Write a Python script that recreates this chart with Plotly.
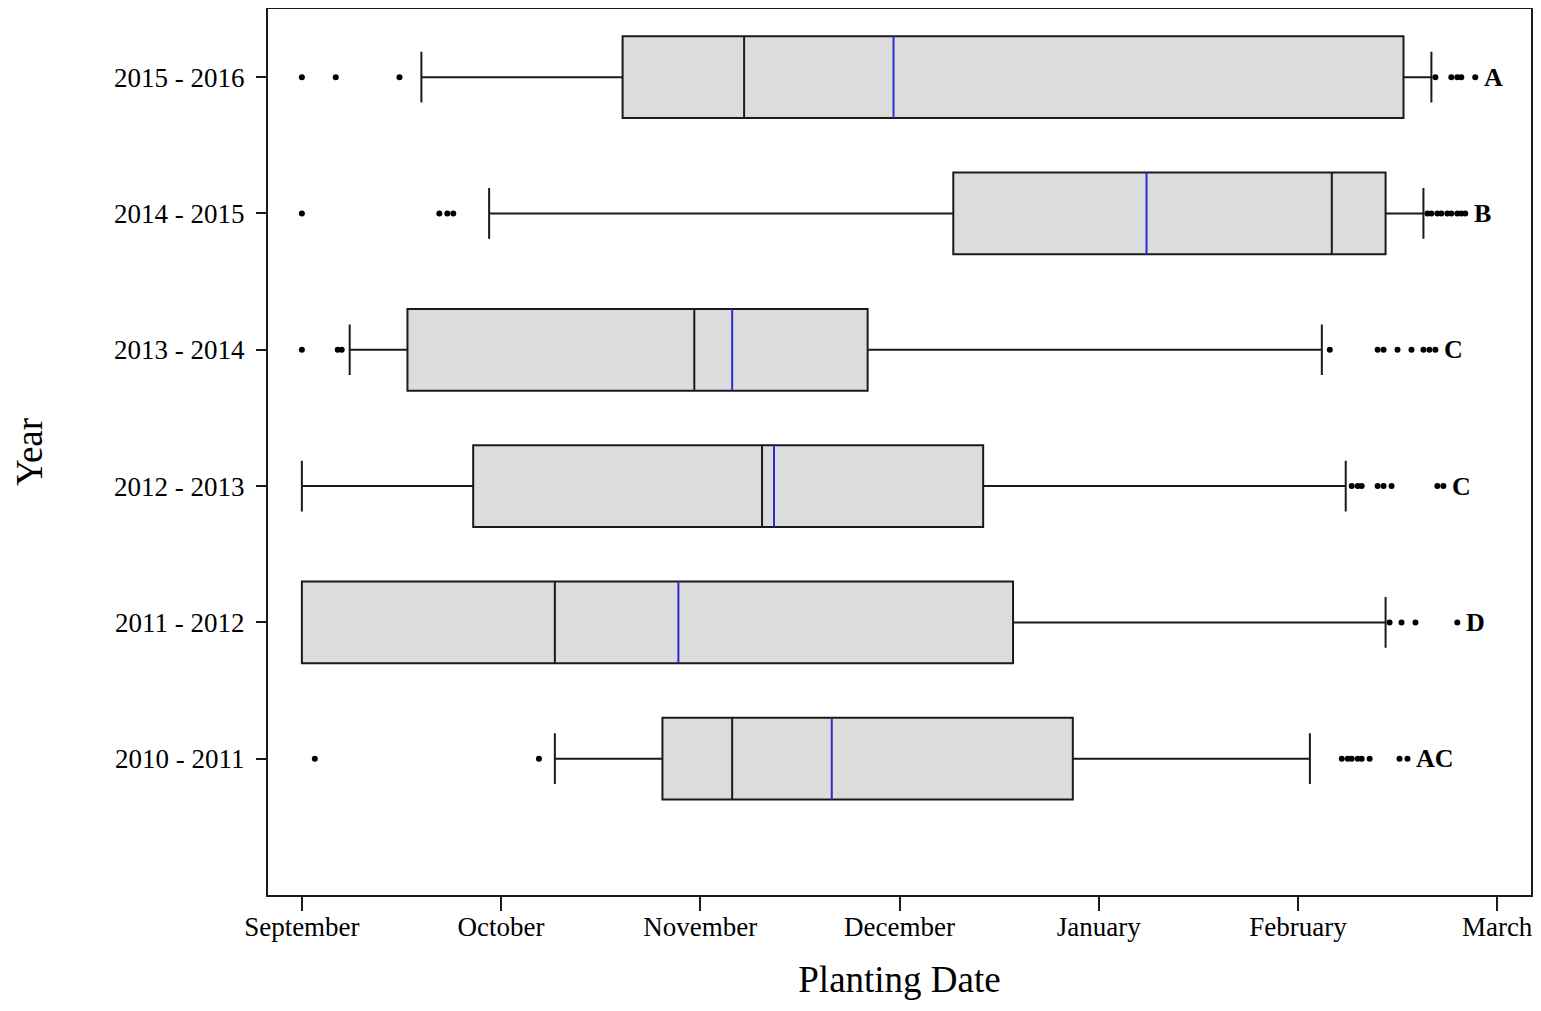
import plotly.graph_objects as go

# ---- data (x values in months after 1 September) ----
seasons = ["2010 - 2011", "2011 - 2012", "2012 - 2013", "2013 - 2014", "2014 - 2015", "2015 - 2016"]
q1 = [1.81, 0.00, 0.86, 0.53, 3.27, 1.61]
median = [2.16, 1.27, 2.31, 1.97, 5.17, 2.22]
mean = [2.66, 1.89, 2.37, 2.16, 4.24, 2.97]
q3 = [3.87, 3.57, 3.42, 2.84, 5.44, 5.53]
lower_whisker = [1.27, 0.00, 0.00, 0.24, 0.94, 0.60]
upper_whisker = [5.06, 5.44, 5.24, 5.12, 5.63, 5.67]
outliers = [
    [0.065, 1.19, 5.22, 5.25, 5.27, 5.30, 5.32, 5.36, 5.51, 5.55],
    [5.46, 5.52, 5.59, 5.80],
    [5.27, 5.30, 5.32, 5.40, 5.43, 5.47, 5.70, 5.73],
    [0.0, 0.18, 0.20, 5.16, 5.40, 5.43, 5.50, 5.57, 5.63, 5.66, 5.69],
    [0.0, 0.69, 0.73, 0.76, 5.65, 5.67, 5.70, 5.72, 5.75, 5.77, 5.80, 5.82, 5.84],
    [0.0, 0.17, 0.49, 5.69, 5.77, 5.80, 5.82, 5.89],
]
group_letters = ["AC", "D", "C", "C", "B", "A"]
month_labels = ["September", "October", "November", "December", "January", "February", "March"]

SERIF = "Liberation Serif, Times New Roman, serif"
positions = list(range(len(seasons)))

fig = go.Figure()

for i, s in enumerate(seasons):
    fig.add_trace(go.Box(
        y=[positions[i]], q1=[q1[i]], median=[median[i]], q3=[q3[i]],
        lowerfence=[lower_whisker[i]], upperfence=[upper_whisker[i]],
        orientation="h", width=0.6, whiskerwidth=0.62,
        fillcolor="#dcdcdc", line=dict(color="#1a1a1a", width=2),
        boxpoints=False, name=s, showlegend=False, hoverinfo="skip",
    ))

# mean lines (blue)
mx, my = [], []
for i in positions:
    mx += [mean[i], mean[i], None]
    my += [i - 0.3, i + 0.3, None]
fig.add_trace(go.Scatter(x=mx, y=my, mode="lines", line=dict(color="#2b2bd0", width=2),
                         showlegend=False, hoverinfo="skip"))

# outliers
ox, oy = [], []
for i in positions:
    ox += outliers[i]
    oy += [i] * len(outliers[i])
fig.add_trace(go.Scatter(x=ox, y=oy, mode="markers",
                         marker=dict(color="black", size=6),
                         showlegend=False, hoverinfo="skip"))

# group letters
for i in positions:
    fig.add_annotation(x=max(outliers[i]), y=i, text="<b>%s</b>" % group_letters[i],
                       showarrow=False, xanchor="left", xshift=7,
                       font=dict(family=SERIF, size=26, color="black"))

fig.update_layout(
    width=1525, height=992,
    margin=dict(l=260, r=2, t=1, b=105),
    paper_bgcolor="white", plot_bgcolor="white",
    font=dict(family=SERIF, size=27, color="black"),
    boxmode="overlay",
)
fig.update_xaxes(
    range=[-0.17, 6.17], tickvals=list(range(len(month_labels))), ticktext=month_labels,
    showline=True, linecolor="#1a1a1a", linewidth=2, mirror=True,
    ticks="outside", ticklen=14, tickwidth=1.5, tickcolor="#1a1a1a",
    showgrid=False, zeroline=False, ticklabelstandoff=-7, automargin=False,
    tickfont=dict(family=SERIF, size=27),
    title=dict(text="Planting Date", font=dict(family=SERIF, size=37), standoff=38),
)
fig.update_yaxes(
    range=[-1.0, 5.5], tickvals=positions, ticktext=seasons,
    showline=True, linecolor="#1a1a1a", linewidth=2, mirror=True,
    ticks="outside", ticklen=10, tickwidth=1.5, tickcolor="#1a1a1a",
    showgrid=False, zeroline=False, ticklabelstandoff=6, automargin=False,
    tickfont=dict(family=SERIF, size=27),
    title=dict(text="Year", font=dict(family=SERIF, size=37), standoff=60),
)

fig.write_html("out.html")
